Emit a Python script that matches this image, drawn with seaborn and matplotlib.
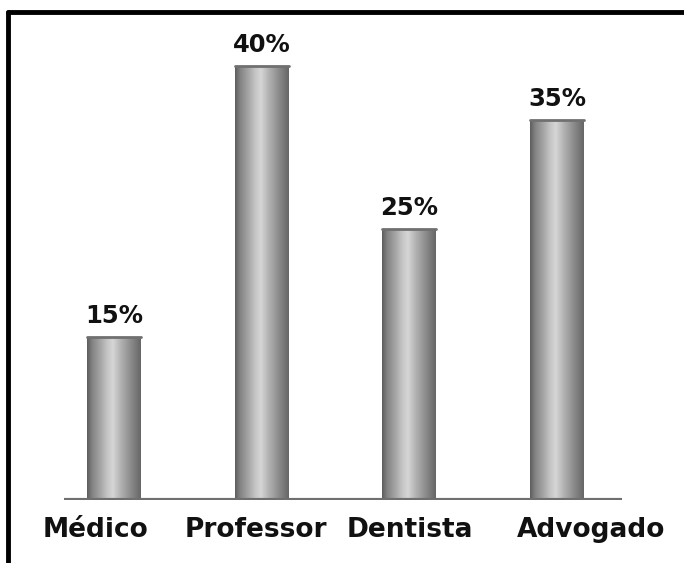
import numpy as np
import pandas as pd
import matplotlib
matplotlib.use("Agg")
import matplotlib.pyplot as plt
from matplotlib.lines import Line2D
from matplotlib.colors import LinearSegmentedColormap
import seaborn as sns

# data
professions = ["Médico", "Professor", "Dentista", "Advogado"]
percentages = [15, 40, 25, 35]
value_labels = ["15%", "40%", "25%", "35%"]
# category labels sit a little off the bar centres in the original
label_pos = [-0.13, 0.96, 2.0, 3.23]

df = pd.DataFrame({"profissao": professions, "pct": percentages})

sns.set_theme(style="white")
plt.rcParams["font.family"] = ["DejaVu Sans"]

fig = plt.figure(figsize=(6.84, 5.63), dpi=100)
ax = fig.add_axes([64 / 684, 63 / 563, (622 - 64) / 684, (500 - 20) / 563])

sns.barplot(data=df, x="profissao", y="pct", order=professions,
            color="#a0a0a0", width=0.365, ax=ax, edgecolor="none")

# cylinder-like shading
shade = LinearSegmentedColormap.from_list("cyl", [
    (0.00, "#5e5e5e"), (0.10, "#848484"), (0.25, "#a6a6a6"),
    (0.38, "#c6c6c6"), (0.48, "#d6d6d6"), (0.62, "#b4b4b4"),
    (0.82, "#8a8a8a"), (1.00, "#666666")])
grad = np.linspace(0, 1, 256).reshape(1, -1)
for patch in ax.patches:
    x0, y0 = patch.get_x(), patch.get_y()
    w, h = patch.get_width(), patch.get_height()
    im = ax.imshow(grad, cmap=shade, aspect="auto",
                   extent=(x0, x0 + w, y0, y0 + h), zorder=2)
    im.set_clip_path(patch)
    ax.plot([x0, x0 + w], [y0 + h, y0 + h], color="#707070", lw=2, zorder=3)

ax.set_xlim(-0.34, 3.44)
ax.set_ylim(0, 44.2)

for i, (v, lab) in enumerate(zip(percentages, value_labels)):
    ax.text(i, v + 0.8, lab, ha="center", va="bottom", fontsize=17.5,
            fontweight="bold", color="#111111", clip_on=False)

ax.axhline(0, color="#6f6f6f", lw=3, zorder=4)
for s in ax.spines.values():
    s.set_visible(False)
ax.set_yticks([])
ax.set_xticks(label_pos)
ax.set_xticklabels(professions, fontsize=19, fontweight="bold", color="#111111")
ax.set_xlabel("")
ax.set_ylabel("")
ax.tick_params(axis="x", length=0, pad=12)

# frame lines (top and left only visible)
fig.add_artist(Line2D([8 / 684, 1], [1 - 12 / 563, 1 - 12 / 563],
                      color="black", lw=3.5, transform=fig.transFigure))
fig.add_artist(Line2D([8 / 684, 8 / 684], [0, 1 - 12 / 563],
                      color="black", lw=3.5, transform=fig.transFigure))

fig.savefig("out.png", dpi=100)
